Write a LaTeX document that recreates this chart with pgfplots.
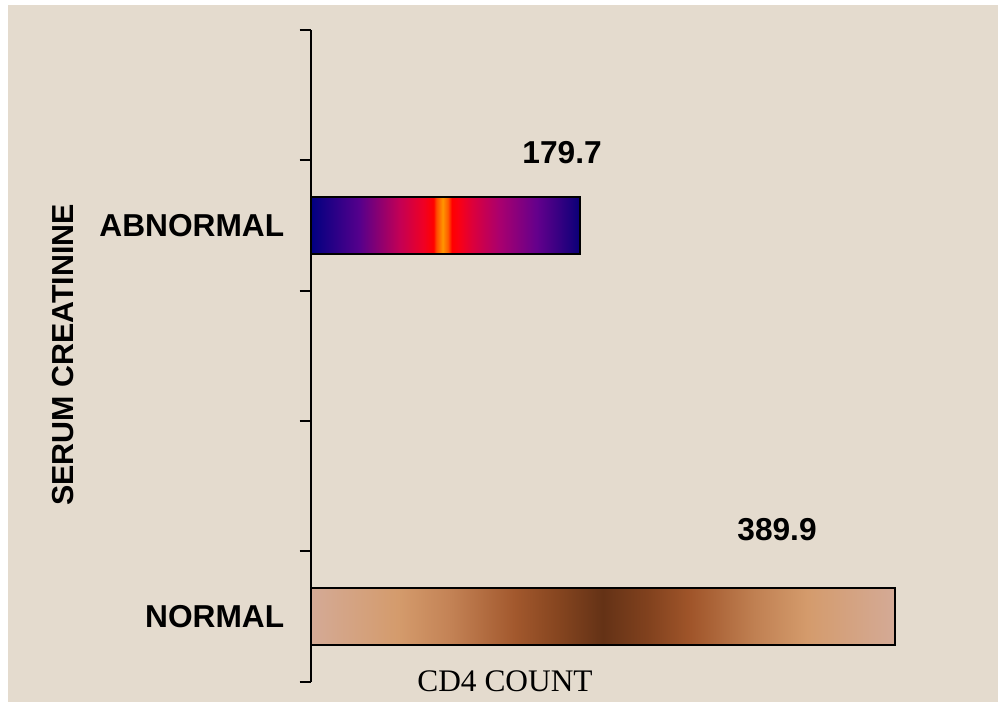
\documentclass[border=0pt]{standalone}
\usepackage{fontspec}
\setmainfont{Liberation Sans}
\newfontfamily\seriffont{Liberation Serif}
\usepackage{pgfplots}
\pgfplotsset{compat=1.18}
\definecolor{bgc}{RGB}{228,219,206}
\pgfdeclarehorizontalshading{abn}{100bp}{%
color(0bp)=(rgb,255:red,0;green,0;blue,128);
color(25bp)=(rgb,255:red,0;green,0;blue,128);
color(34bp)=(rgb,255:red,85;green,0;blue,140);
color(41.5bp)=(rgb,255:red,195;green,0;blue,85);
color(46bp)=(rgb,255:red,240;green,0;blue,35);
color(47.8bp)=(rgb,255:red,255;green,0;blue,0);
color(48.3bp)=(rgb,255:red,255;green,70;blue,0);
color(49.5bp)=(rgb,255:red,255;green,150;blue,0);
color(50.5bp)=(rgb,255:red,255;green,90;blue,0);
color(51.2bp)=(rgb,255:red,255;green,0;blue,0);
color(52.5bp)=(rgb,255:red,250;green,0;blue,20);
color(55bp)=(rgb,255:red,220;green,0;blue,60);
color(60bp)=(rgb,255:red,170;green,0;blue,110);
color(67bp)=(rgb,255:red,100;green,0;blue,140);
color(75bp)=(rgb,255:red,10;green,0;blue,120);
color(100bp)=(rgb,255:red,10;green,0;blue,120)}
\pgfdeclarehorizontalshading{nrm}{100bp}{%
color(0bp)=(rgb,255:red,212;green,170;blue,150);
color(25bp)=(rgb,255:red,212;green,170;blue,150);
color(32.5bp)=(rgb,255:red,212;green,155;blue,108);
color(37bp)=(rgb,255:red,195;green,130;blue,85);
color(42.5bp)=(rgb,255:red,162;green,88;blue,45);
color(46bp)=(rgb,255:red,135;green,70;blue,32);
color(50bp)=(rgb,255:red,100;green,50;blue,22);
color(54bp)=(rgb,255:red,130;green,66;blue,30);
color(57.5bp)=(rgb,255:red,160;green,85;blue,42);
color(63bp)=(rgb,255:red,192;green,128;blue,82);
color(67.5bp)=(rgb,255:red,212;green,155;blue,108);
color(75bp)=(rgb,255:red,212;green,170;blue,150);
color(100bp)=(rgb,255:red,212;green,170;blue,150)}
\begin{document}
\begin{tikzpicture}
\fill[white] (-310.7bp,-20.3bp) rectangle (687.3bp,681.7bp);
\fill[bgc] (-302.7bp,-20.3bp) rectangle (687.3bp,676.7bp);
\begin{axis}[
  scale only axis,
  width=674.1bp, height=651.7bp,
  xmin=0, xmax=450, ymin=0, ymax=5,
  axis x line=none,
  axis y line*=left,
  y axis line style={line width=2bp, black},
  ytick={0,1,2,3,4,5},
  yticklabels={},
  ytick style={line width=2bp, black},
  major tick length=11bp,
  tick align=outside,
  clip=false,
]
\addplot[xbar, bar width=0.432, draw=black, line width=2.2bp, shading=abn,
  postaction={draw=black, line width=2.2bp}] coordinates {(179.7,3.5)};
\addplot[xbar, bar width=0.432, draw=black, line width=2.2bp, shading=nrm,
  postaction={draw=black, line width=2.2bp}] coordinates {(389.9,0.5)};
\node[font=\fontsize{31.8}{36}\selectfont\bfseries, anchor=east] at (axis cs:0,3.5) [xshift=-23bp] {ABNORMAL};
\node[font=\fontsize{31.8}{36}\selectfont\bfseries, anchor=east] at (axis cs:0,0.5) [xshift=-23bp] {NORMAL};
\node[font=\fontsize{31.8}{36}\selectfont\bfseries] at (axis cs:167.8,4.056) {179.7};
\node[font=\fontsize{31.8}{36}\selectfont\bfseries] at (axis cs:311.3,1.17) {389.9};
\node[font=\fontsize{30.5}{36}\selectfont\bfseries, rotate=90] at (axis cs:-165.4,2.507) {SERUM CREATININE};
\node[font=\fontsize{31.5}{36}\selectfont\seriffont] at (axis cs:129.7,0) {CD4 COUNT};
\end{axis}
\pgfresetboundingbox
\path[use as bounding box] (-310.7bp,-20.3bp) rectangle (687.3bp,681.7bp);
\end{tikzpicture}
\end{document}
